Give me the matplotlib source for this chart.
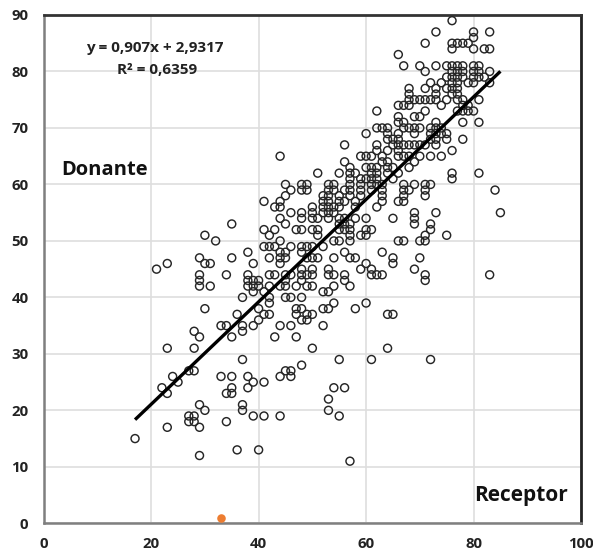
import matplotlib
matplotlib.use("Agg")
import matplotlib.pyplot as plt

# Donor value levels and, per level, receptor values
donante_levels = [89,87,86,85,84,83,81,80,79,78,77,76,75,74,73,72,71,70,69,68,67,66,65,64,63,62,61,60,
                  59,58,57,56,55,54,53,52,51,50,49,48,47,46,45,44,43,42,41,40,39,38,37,36,35,34,33,
                  31,29,28,27,26,25,24,23,22,21,20,19,18,17,15,13,12,11]
receptor_at_level = [
 [76],[73,80,83],[80],[71,76,77,78,79],[76,80,82,83],[66],
 [67,70,73,75,76,77,78,80,81],[71,76,77,78,80,81,83],[75,76,77,78,80,81,82],
 [72,74,76,77,79,80,83],[68,71,73,75,76,77],[68,73,76,77],
 [68,69,70,71,72,73,75,77,78,81],[66,67,68,74,78,79],[62,71,77,78,79,80],[66,69,70],
 [66,67,73,78,81],[62,63,64,67,68,69,70,72,73,74],[60,64,66,69,72,73,74,75],
 [64,65,66,72,73,75,78],[56,62,65,66,67,68,69,70,71,73],[62,64,66,76],
 [44,59,60,61,63,66,67,68,70,72,74],[56,63,64,69],[57,60,61,62,64,65,68],
 [51,55,57,58,61,62,64,66,76,81],[57,59,60,61,62,65,76],
 [45,48,49,53,54,57,59,61,62,63,67,69,71,72],
 [46,48,49,53,54,56,57,59,61,63,67,68,71,84],[45,52,53,55,57,59,63,67,71],
 [41,44,52,53,55,56,58,63,66,67],[43,44,50,52,53,54,55,58,62],
 [46,48,50,52,53,54,69,73,85],[44,48,50,51,53,55,56,58,60,65,69],[35,45,55,56,57,69,72],
 [41,43,47,48,50,51,55,56,57,60,61,72],[30,42,51,57,59,60,71,75],[32,44,54,55,57,66,67,70,71],
 [41,42,43,46,48,49,50,52],[38,44,45,48,56,63],[29,35,42,44,45,49,50,51,54,57,58,65,70],
 [23,30,31,39,44,60,65],[21,48,50,53,59,61,69],
 [29,34,38,42,43,45,46,48,49,50,53,54,56,61,62,63,71,83],[29,38,39,40,45,48,56,71],
 [29,31,38,39,40,42,44,45,47,49,50,54,57],[39,41,52,53],[37,42,45,46,48],[42,54,60],
 [30,40,47,48,52,53,58],[36,41,42,47,49,50,64,65],[40,48,49],[33,34,37,39,44,46,52],[28,37],
 [29,35,43,47],[23,28,50,64],[37,55,61,72],[48],[27,28,45,46],[24,33,35,38,44,46],[25,39,41],
 [22,35,38,54,56],[23,34,35],[53],[29,37],[30,37,53],[27,28,39,41,44,55],[27,28,34],[23,29],
 [17],[36,40],[29],[57],
]
highlight_x = [33]
highlight_y = [1]
trend_slope = 0.907
trend_intercept = 2.9317
trend_x = [17, 85]
x_ticks = [0, 20, 40, 60, 80, 100]
y_ticks = [0, 10, 20, 30, 40, 50, 60, 70, 80, 90]

receptor = [x for row in receptor_at_level for x in row]
donante = [y for y, row in zip(donante_levels, receptor_at_level) for _ in row]
trend_y = [trend_slope * x + trend_intercept for x in trend_x]

W, H = 593, 554
fig = plt.figure(figsize=(W / 100, H / 100), dpi=100)
left, right, top, bottom = 43.7, 581, 15, 523.3
ax = fig.add_axes([left / W, 1 - bottom / H, (right - left) / W, (bottom - top) / H])
ax.set_xlim(0, 100)
ax.set_ylim(0, 90)
ax.grid(True, color="#dedede", lw=1.2)
ax.set_axisbelow(True)

ax.scatter(receptor, donante, s=33, facecolors="none", edgecolors="#262626", linewidths=1.05, zorder=3)
ax.scatter(highlight_x, highlight_y, s=38, color="#ed7d31", linewidths=0, zorder=3)
ax.plot(trend_x, trend_y, color="black", lw=2.4, solid_capstyle="butt", zorder=4)

ax.set_xticks(x_ticks)
ax.set_yticks(y_ticks)
ax.tick_params(length=0, labelsize=10.8, labelcolor="#222222")
for lab in ax.get_xticklabels() + ax.get_yticklabels():
    lab.set_fontfamily("Open Sans")
    lab.set_fontweight("bold")
ax.tick_params(axis="y", pad=11)
ax.tick_params(axis="x", pad=10)

for side, col, lw in [("top", "#333333", 2.0), ("right", "#222222", 2.0),
                      ("left", "#7f7f7f", 1.8), ("bottom", "#7f7f7f", 1.8)]:
    ax.spines[side].set_color(col)
    ax.spines[side].set_linewidth(lw)

eq = dict(family="Open Sans", fontweight="bold", fontsize=11, color="#222222", ha="center", va="center")
ax.text(20.7, 84.1, "y = 0,907x + 2,9317", **eq)
ax.text(21.1, 80.2, "R² = 0,6359", **eq)
ax.text(3.3, 62.6, "Donante", family="Open Sans", fontweight="bold", fontsize=14.5, color="#111111", va="center")
ax.text(80.2, 4.9, "Receptor", family="Open Sans", fontweight="bold", fontsize=15, color="#111111", va="center")

fig.savefig("out.png", dpi=100)
